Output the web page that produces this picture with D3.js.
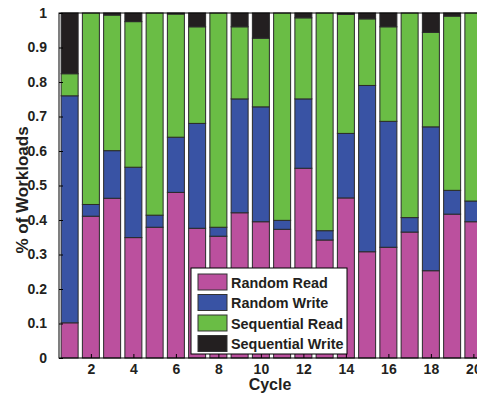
<!DOCTYPE html>
<html>
<head>
<meta charset="utf-8">
<script src="https://cdn.jsdelivr.net/npm/d3@7"></script>
<style>
  body { margin: 0; background: #fff; }
  svg { display: block; font-family: "Liberation Sans", Arial, sans-serif; font-weight: bold; }
</style>
</head>
<body>
<script>
// cycle numbers and stacked shares
const cycles = d3.range(1, 21);
const randomRead  = [0.102, 0.411, 0.463, 0.349, 0.379, 0.480, 0.376, 0.353, 0.421, 0.395,
                     0.373, 0.550, 0.342, 0.464, 0.308, 0.321, 0.365, 0.253, 0.417, 0.395];
const randomWrite = [0.658, 0.034, 0.138, 0.204, 0.035, 0.160, 0.304, 0.026, 0.330, 0.333,
                     0.026, 0.201, 0.027, 0.187, 0.482, 0.365, 0.042, 0.417, 0.069, 0.060];
const seqRead     = [0.064, 0.555, 0.393, 0.422, 0.586, 0.357, 0.280, 0.621, 0.209, 0.199,
                     0.601, 0.235, 0.631, 0.345, 0.193, 0.274, 0.593, 0.274, 0.505, 0.545];
const seqWrite    = cycles.map((c, i) => Math.max(0, 1 - randomRead[i] - randomWrite[i] - seqRead[i]));

const keys = ["Random Read", "Random Write", "Sequential Read", "Sequential Write"];
const colors = ["#bb509e", "#3953a4", "#6abd45", "#231f20"];
const xTicks = [2, 4, 6, 8, 10, 12, 14, 16, 18, 20];
const yTicks = d3.range(0, 11).map(d => d / 10);

let width = 477, height = 395;
let mLeft = 59, mTop = 13, mBottom = 358, mRight = 484;

let svg = d3.select("body").append("svg")
    .attr("width", width)
    .attr("height", height);

let table = cycles.map((c, i) => ({
    cycle: c,
    "Random Read": randomRead[i],
    "Random Write": randomWrite[i],
    "Sequential Read": seqRead[i],
    "Sequential Write": seqWrite[i]
}));

let x = d3.scaleLinear().domain([0.5, 20.5]).range([mLeft, mRight]);
let y = d3.scaleLinear().domain([0, 1]).range([mBottom, mTop]);
let barW = (x(2) - x(1)) * 0.8;

let series = d3.stack().keys(keys)(table);

series.forEach((s, k) => {
    svg.append("g")
        .selectAll("rect")
        .data(s)
        .enter()
        .append("rect")
        .attr("x", d => x(d.data.cycle) - barW / 2)
        .attr("width", barW)
        .attr("y", d => y(d[1]))
        .attr("height", d => Math.max(0, y(d[0]) - y(d[1])))
        .attr("fill", colors[k])
        .attr("stroke", "#2a2a2a")
        .attr("stroke-width", 1);
});

// axes box
svg.append("rect")
    .attr("x", mLeft).attr("y", mTop)
    .attr("width", mRight - mLeft).attr("height", mBottom - mTop)
    .attr("fill", "none").attr("stroke", "#000").attr("stroke-width", 1);

let yAxis = svg.append("g")
    .attr("transform", "translate(" + mLeft + ",0)")
    .call(d3.axisLeft(y).tickValues(yTicks).tickSize(-4).tickPadding(12).tickFormat(d3.format("")));
yAxis.select(".domain").remove();
yAxis.selectAll("text").attr("font-size", 14).attr("fill", "#231f20").attr("font-family", "Liberation Sans, Arial, sans-serif").attr("font-weight", "bold");

let xAxis = svg.append("g")
    .attr("transform", "translate(0," + mBottom + ")")
    .call(d3.axisBottom(x).tickValues(xTicks).tickSize(-4).tickPadding(6).tickFormat(d3.format("d")));
xAxis.select(".domain").remove();
xAxis.selectAll("text").attr("font-size", 14).attr("fill", "#231f20").attr("font-family", "Liberation Sans, Arial, sans-serif").attr("font-weight", "bold");

svg.append("text")
    .attr("x", 270)
    .attr("y", 390)
    .attr("text-anchor", "middle")
    .attr("font-size", 16)
    .attr("fill", "#231f20")
    .text("Cycle");

svg.append("text")
    .attr("transform", "translate(28,190) rotate(-90)")
    .attr("text-anchor", "middle")
    .attr("font-size", 17)
    .attr("fill", "#231f20")
    .text("% of Workloads");

// legend
let legend = svg.append("g").attr("transform", "translate(191,268)");
legend.append("rect")
    .attr("width", 156).attr("height", 86)
    .attr("fill", "#fff").attr("stroke", "#000").attr("stroke-width", 1);
keys.forEach((k, i) => {
    legend.append("rect")
        .attr("x", 7).attr("y", 6 + i * 20.5)
        .attr("width", 29).attr("height", 16)
        .attr("fill", colors[i]).attr("stroke", "#333").attr("stroke-width", 1);
    legend.append("text")
        .attr("x", 40).attr("y", 19.5 + i * 20.5)
        .attr("font-size", 14.4)
        .attr("fill", "#231f20")
        .text(k);
});
</script>
</body>
</html>
